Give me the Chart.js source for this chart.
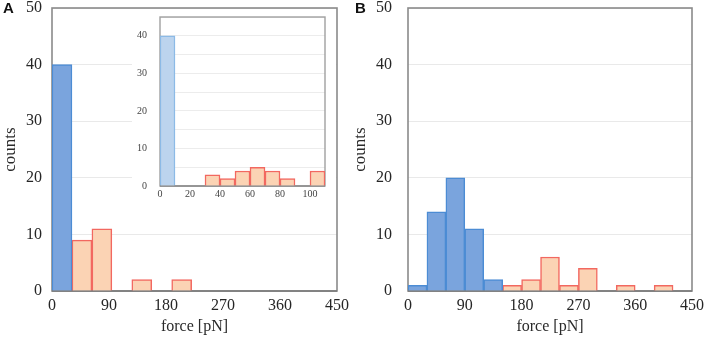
<!DOCTYPE html>
<html><head><meta charset="utf-8">
<script src="https://cdn.jsdelivr.net/npm/chart.js@4.4.1/dist/chart.umd.min.js"></script>
<style>
html,body{margin:0;padding:0;background:#fff;width:708px;height:339px;overflow:hidden;position:relative}
.box{position:absolute}
.lbl{position:absolute;font:bold 15px "Liberation Sans",Arial,sans-serif;color:#111;line-height:17px}
</style></head><body>
<div class="box" style="left:0;top:0;width:360px;height:339px"><canvas id="cA" width="360" height="339"></canvas></div>
<div class="box" style="left:350px;top:0;width:358px;height:339px"><canvas id="cB" width="358" height="339"></canvas></div>
<div class="box" style="left:132px;top:10px;width:204px;height:195px;background:#fff"><canvas id="cI" width="204" height="195"></canvas></div>
<div class="lbl" style="left:3px;top:-1px">A</div>
<div class="lbl" style="left:355px;top:-1px">B</div>
<script>
// ---- data (force in pN, counts) ----
// Panel A main histogram (bin start values as drawn)
const binStartsA = [0, 31.5, 63, 94.5, 126, 157.5, 189];
const binWidthA = 31.5;
const blueCountsA = [40, null, null, null, null, null, null];
const orangeCountsA = [null, 9, 11, 0, 2, 0, 2];
// Panel A inset histogram
const binStartsInset = [0, 10, 20, 30, 40, 50, 60, 70, 80, 90, 100];
const binWidthInset = 10;
const blueCountsInset = [40, null, null, null, null, null, null, null, null, null, null];
const orangeCountsInset = [null, 0, 0, 3, 2, 4, 5, 4, 2, 0, 4];
// Panel B histogram
const binStartsB = [0, 30, 60, 90, 120, 150, 180, 210, 240, 270, 300, 330, 360, 390];
const binWidthB = 30;
const blueCountsB = [1, 14, 20, 11, 2, null, null, null, null, null, null, null, null, null];
const orangeCountsB = [null, null, null, null, null, 1, 2, 6, 1, 4, 0, 1, 0, 1];
// axis ticks
const mainXTicks = [0, 90, 180, 270, 360, 450];
const mainYTicks = [0, 10, 20, 30, 40, 50];
const insetXTicks = [0, 20, 40, 60, 80, 100];
const insetYTicks = [0, 10, 20, 30, 40];
const insetYGrid = [0, 5, 10, 15, 20, 25, 30, 35, 40, 45];
const xTitle = 'force [pN]';
const yTitle = 'counts';

const SERIF = '"Liberation Serif","Times New Roman",serif';
const BLUE_FILL = 'rgb(122,164,221)', BLUE_LINE = 'rgb(76,140,212)';
const LBLUE_FILL = 'rgb(188,212,238)', LBLUE_LINE = 'rgb(140,186,230)';
const OR_FILL = 'rgb(251,211,180)', OR_LINE = 'rgb(242,104,96)';

const framePlugin = {
  id: 'frame',
  beforeDatasetsDraw(chart, args, o) {
    const {ctx, chartArea: {left, top, right, bottom}} = chart;
    ctx.save();
    ctx.strokeStyle = o.color; ctx.lineWidth = o.width;
    ctx.strokeRect(left, top, right - left, bottom - top);
    ctx.strokeStyle = o.bottomColor;
    ctx.beginPath(); ctx.moveTo(left, bottom); ctx.lineTo(right, bottom); ctx.stroke();
    ctx.restore();
  }
};

function pts(starts, w, vals) {
  return starts.map((s, i) => ({x: s + w / 2, y: vals[i]}));
}
function ds(starts, w, vals, fill, line) {
  return {data: pts(starts, w, vals), backgroundColor: fill, borderColor: line, borderWidth: 1.5,
    borderSkipped: 'start', barPercentage: 1, categoryPercentage: 1, grouped: false};
}

function makeHist(id, o) {
  return new Chart(document.getElementById(id), {
    type: 'bar',
    data: {datasets: o.datasets},
    options: {
      responsive: false, animation: false, events: [],
      layout: {padding: o.pad},
      plugins: {legend: {display: false}, tooltip: {enabled: false},
        frame: {color: o.frameColor, width: o.frameWidth, bottomColor: o.bottomColor}},
      scales: {
        x: {type: 'linear', min: o.xMin, max: o.xMax, offset: false,
          afterBuildTicks(s) { s.ticks = o.xTicks.map(v => ({value: v})); },
          ticks: {padding: o.xPad, font: {family: SERIF, size: o.tickSize}, color: o.tickColor, maxRotation: 0, autoSkip: false},
          grid: {display: false, drawTicks: false, offset: false}, border: {display: false},
          title: {display: !!o.xTitle, text: o.xTitle, font: {family: SERIF, size: 16}, color: '#2a2a2a', padding: {top: 0, bottom: 3}},
          afterFit(s) { s.height = o.xH; s.paddingLeft = 0; s.paddingRight = 0; }
        },
        y: {min: 0, max: o.yMax,
          afterBuildTicks(s) { s.ticks = o.yGrid.map(v => ({value: v})); },
          ticks: {padding: o.yPad, font: {family: SERIF, size: o.tickSize}, color: o.tickColor,
            callback: v => o.yTicks.includes(v) ? String(v) : ''},
          grid: {color: o.gridColor, drawTicks: false, lineWidth: 1}, border: {display: false},
          title: {display: !!o.yTitle, text: o.yTitle, font: {family: SERIF, size: 17}, color: '#2a2a2a', padding: {top: 0, bottom: 0}},
          afterFit(s) { s.width = o.yW; s.paddingTop = 0; s.paddingBottom = 0; }
        }
      }
    },
    plugins: [framePlugin]
  });
}

makeHist('cA', {
  datasets: [ds(binStartsA, binWidthA, blueCountsA, BLUE_FILL, BLUE_LINE),
             ds(binStartsA, binWidthA, orangeCountsA, OR_FILL, OR_LINE)],
  pad: {left: 0, top: 8, right: 23, bottom: 0},
  xMin: 0, xMax: 450, xTicks: mainXTicks, yMax: 50, yGrid: mainYTicks, yTicks: mainYTicks,
  xPad: 5, yPad: 10, tickSize: 16, tickColor: '#262626', gridColor: '#e9e9e9',
  xTitle: xTitle, yTitle: yTitle, xH: 48, yW: 52,
  frameColor: '#8a8a8a', frameWidth: 1.6, bottomColor: '#7a7a7a'
});

makeHist('cB', {
  datasets: [ds(binStartsB, binWidthB, blueCountsB, BLUE_FILL, BLUE_LINE),
             ds(binStartsB, binWidthB, orangeCountsB, OR_FILL, OR_LINE)],
  pad: {left: 0, top: 8, right: 16, bottom: 0},
  xMin: 0, xMax: 450, xTicks: mainXTicks, yMax: 50, yGrid: mainYTicks, yTicks: mainYTicks,
  xPad: 5, yPad: 16, tickSize: 16, tickColor: '#262626', gridColor: '#e9e9e9',
  xTitle: xTitle, yTitle: yTitle, xH: 48, yW: 58,
  frameColor: '#8a8a8a', frameWidth: 1.6, bottomColor: '#7a7a7a'
});

makeHist('cI', {
  datasets: [ds(binStartsInset, binWidthInset, blueCountsInset, LBLUE_FILL, LBLUE_LINE),
             ds(binStartsInset, binWidthInset, orangeCountsInset, OR_FILL, OR_LINE)],
  pad: {left: 0, top: 7, right: 11, bottom: 0},
  xMin: 0, xMax: 110, xTicks: insetXTicks, yMax: 45, yGrid: insetYGrid, yTicks: insetYTicks,
  xPad: 2, yPad: 13, tickSize: 10, tickColor: '#444', gridColor: '#ececec',
  xTitle: '', yTitle: '', xH: 19, yW: 28,
  frameColor: '#a0a0a0', frameWidth: 1.4, bottomColor: '#8a8a8a'
});
</script>
</body></html>
